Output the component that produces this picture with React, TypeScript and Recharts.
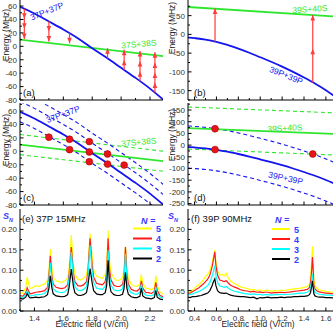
import React from 'react';
import { ComposedChart, Line, Scatter, XAxis, YAxis } from 'recharts';

// ---- (a)/(c): 37P+37P and 37S+38S pair energies (MHz) vs field (V/cm) ----
const field37 = [1.3, 1.4, 1.5, 1.6, 1.7, 1.8, 1.9, 2.0, 2.1, 2.2, 2.3];
const pp37 = [59, 49, 37, 25, 12, -3, -17, -32, -47, -63, -81];
const pp37Plus15 = [74, 64, 52, 40, 27, 12, -2, -17, -32, -48, -66];
const pp37Plus30 = [89, 79, 67, 55, 42, 27, 13, -2, -17, -33, -51];
const pp37Minus15 = [44, 34, 22, 10, -3, -18, -32, -47, -62, -78, -96];
const fieldEnds37 = [1.3, 2.3];
const ss37 = [10, -15];
const ss37Plus15 = [25, 0];
const ss37Minus15 = [-5, -30];

// arrows in (a): start on 37P+37P, one head per 15 MHz photon
const arrowX37 = [1.33, 1.5, 1.643, 1.906, 2.021, 2.131, 2.234];
const arrowStart37 = [56, 37, 19.4, -18, -35, -52, -69];
const arrowHeads37 = [[41, 26, 11], [22, 7], [4.4], [-3], [-20, -5], [-37, -22, -7], [-54, -39, -24, -9]];

// crossings marked in (c)
const dotX37 = [1.5, 1.643, 1.643, 1.78, 1.78, 1.78, 1.906, 1.906, 2.021];
const dotY37 = [21, 18, 2.5, 14.5, -1, -15.5, -4, -19, -20.5];

// ---- (b)/(d): 39P+39P and 39S+40S ----
const field39 = [0.34, 0.4, 0.5, 0.6, 0.7, 0.8, 0.9, 1.0, 1.1, 1.2, 1.3, 1.4, 1.5, 1.6, 1.67];
const pp39 = [-8, -10, -14, -20, -28, -38, -49, -61, -73, -86, -100, -115, -131, -149, -163];
const pp39Plus90 = [82, 80, 76, 70, 62, 52, 41, 29, 17, 4, -10, -25, -41, -59, -73];
const pp39Minus90 = [-98, -100, -104, -110, -118, -128, -139, -151, -163, -176, -190, -205, -221, -239, -253];
const fieldEnds39 = [0.34, 1.67];
const ss39 = [73, 48];
const ss39Plus90 = [163, 138];
const ss39Minus90 = [-17, -42];

const arrowX39 = [0.587, 1.48];
const arrowStart39 = [-19, -128];
const arrowHeads39 = [[69], [-38, 52]];

const dotX39 = [0.587, 0.587, 1.48];
const dotY39 = [70, -19, -38];

// ---- (e): 37P, 15 MHz, S_N vs field ----
const fieldE = [
  1.30, 1.32, 1.34, 1.35, 1.36, 1.37, 1.39, 1.41, 1.43, 1.45,
  1.47, 1.49, 1.50, 1.51, 1.52, 1.53, 1.55, 1.57, 1.59, 1.61,
  1.63, 1.64, 1.655, 1.67, 1.68, 1.70, 1.72, 1.74, 1.76, 1.77,
  1.785, 1.80, 1.81, 1.83, 1.85, 1.87, 1.89, 1.90, 1.91, 1.92,
  1.93, 1.95, 1.97, 1.99, 2.01, 2.02, 2.03, 2.04, 2.05, 2.07,
  2.09, 2.11, 2.13, 2.14, 2.15, 2.17, 2.19, 2.21, 2.23, 2.24,
  2.25, 2.27, 2.29,
];
const n5E = [
  0.046, 0.043, 0.058, 0.083, 0.066, 0.055, 0.058, 0.062, 0.060, 0.064,
  0.066, 0.075, 0.098, 0.152, 0.105, 0.082, 0.074, 0.072, 0.070, 0.074,
  0.082, 0.105, 0.186, 0.112, 0.090, 0.078, 0.076, 0.080, 0.088, 0.110,
  0.190, 0.130, 0.100, 0.085, 0.082, 0.080, 0.090, 0.110, 0.197, 0.120,
  0.094, 0.080, 0.075, 0.076, 0.082, 0.100, 0.158, 0.105, 0.080, 0.065,
  0.062, 0.060, 0.066, 0.090, 0.068, 0.056, 0.055, 0.052, 0.058, 0.087,
  0.062, 0.046, 0.042,
];
const n4E = [
  0.038, 0.036, 0.045, 0.057, 0.048, 0.042, 0.044, 0.046, 0.047, 0.048,
  0.050, 0.058, 0.085, 0.135, 0.088, 0.066, 0.058, 0.056, 0.055, 0.057,
  0.064, 0.090, 0.157, 0.092, 0.072, 0.062, 0.061, 0.064, 0.072, 0.095,
  0.178, 0.110, 0.083, 0.068, 0.066, 0.064, 0.072, 0.095, 0.178, 0.100,
  0.076, 0.063, 0.060, 0.060, 0.065, 0.085, 0.157, 0.090, 0.066, 0.053,
  0.050, 0.049, 0.055, 0.074, 0.056, 0.046, 0.045, 0.043, 0.048, 0.070,
  0.050, 0.038, 0.035,
];
const n3E = [
  0.034, 0.033, 0.040, 0.050, 0.042, 0.037, 0.038, 0.040, 0.040, 0.041,
  0.043, 0.050, 0.075, 0.118, 0.078, 0.055, 0.048, 0.046, 0.045, 0.047,
  0.054, 0.080, 0.145, 0.082, 0.060, 0.051, 0.050, 0.053, 0.060, 0.085,
  0.161, 0.095, 0.070, 0.056, 0.054, 0.053, 0.060, 0.080, 0.149, 0.085,
  0.063, 0.052, 0.050, 0.050, 0.054, 0.075, 0.140, 0.078, 0.055, 0.045,
  0.042, 0.041, 0.046, 0.066, 0.047, 0.039, 0.038, 0.037, 0.041, 0.060,
  0.043, 0.034, 0.032,
];
const n2E = [
  0.031, 0.029, 0.034, 0.043, 0.036, 0.032, 0.033, 0.034, 0.033, 0.034,
  0.035, 0.040, 0.055, 0.086, 0.058, 0.042, 0.037, 0.036, 0.035, 0.036,
  0.040, 0.058, 0.103, 0.060, 0.045, 0.039, 0.038, 0.040, 0.045, 0.062,
  0.104, 0.068, 0.050, 0.042, 0.040, 0.040, 0.045, 0.062, 0.124, 0.065,
  0.047, 0.040, 0.038, 0.038, 0.041, 0.055, 0.095, 0.056, 0.041, 0.035,
  0.033, 0.033, 0.036, 0.056, 0.037, 0.032, 0.031, 0.030, 0.033, 0.050,
  0.034, 0.029, 0.028,
];

// ---- (f): 39P, 90 MHz ----
const fieldF = [
  0.34, 0.36, 0.38, 0.40, 0.42, 0.44, 0.46, 0.48, 0.50, 0.52,
  0.54, 0.56, 0.57, 0.585, 0.595, 0.61, 0.63, 0.65, 0.67, 0.69,
  0.71, 0.73, 0.76, 0.79, 0.82, 0.85, 0.88, 0.91, 0.94, 0.97,
  1.00, 1.02, 1.04, 1.07, 1.10, 1.13, 1.16, 1.19, 1.22, 1.25,
  1.28, 1.31, 1.34, 1.37, 1.40, 1.43, 1.45, 1.46, 1.47, 1.477,
  1.485, 1.49, 1.50, 1.52, 1.54, 1.57, 1.60, 1.63, 1.665,
];
const n5F = [
  0.045, 0.047, 0.051, 0.056, 0.061, 0.064, 0.070, 0.076, 0.085, 0.090,
  0.100, 0.118, 0.130, 0.149, 0.120, 0.098, 0.088, 0.090, 0.086, 0.092,
  0.080, 0.073, 0.068, 0.064, 0.059, 0.057, 0.055, 0.052, 0.053, 0.050,
  0.052, 0.049, 0.050, 0.051, 0.048, 0.050, 0.049, 0.051, 0.050, 0.052,
  0.053, 0.054, 0.055, 0.056, 0.058, 0.060, 0.066, 0.080, 0.120, 0.158,
  0.110, 0.075, 0.062, 0.055, 0.052, 0.050, 0.048, 0.047, 0.046,
];
const n4F = [
  0.043, 0.044, 0.047, 0.050, 0.054, 0.057, 0.062, 0.066, 0.072, 0.078,
  0.088, 0.108, 0.122, 0.145, 0.112, 0.088, 0.076, 0.074, 0.072, 0.074,
  0.068, 0.063, 0.059, 0.056, 0.052, 0.050, 0.049, 0.047, 0.048, 0.046,
  0.047, 0.045, 0.046, 0.046, 0.044, 0.045, 0.045, 0.046, 0.045, 0.046,
  0.047, 0.048, 0.049, 0.050, 0.051, 0.053, 0.058, 0.070, 0.100, 0.132,
  0.095, 0.064, 0.054, 0.049, 0.047, 0.045, 0.044, 0.043, 0.042,
];
const n3F = [
  0.040, 0.040, 0.042, 0.044, 0.046, 0.048, 0.051, 0.054, 0.058, 0.062,
  0.070, 0.085, 0.095, 0.112, 0.088, 0.070, 0.062, 0.060, 0.058, 0.060,
  0.056, 0.052, 0.049, 0.047, 0.045, 0.043, 0.042, 0.041, 0.042, 0.040,
  0.041, 0.039, 0.040, 0.040, 0.039, 0.040, 0.040, 0.041, 0.040, 0.041,
  0.041, 0.042, 0.043, 0.044, 0.044, 0.046, 0.050, 0.058, 0.075, 0.091,
  0.070, 0.052, 0.046, 0.043, 0.041, 0.040, 0.039, 0.039, 0.038,
];
const n2F = [
  0.034, 0.033, 0.035, 0.035, 0.036, 0.037, 0.038, 0.040, 0.042, 0.044,
  0.050, 0.062, 0.070, 0.079, 0.062, 0.050, 0.045, 0.044, 0.043, 0.044,
  0.041, 0.039, 0.037, 0.036, 0.035, 0.035, 0.034, 0.033, 0.034, 0.030,
  0.033, 0.032, 0.033, 0.034, 0.032, 0.033, 0.033, 0.034, 0.033, 0.034,
  0.034, 0.035, 0.035, 0.036, 0.036, 0.037, 0.040, 0.046, 0.060, 0.074,
  0.055, 0.042, 0.037, 0.035, 0.034, 0.034, 0.033, 0.033, 0.032,
];

// axes: major (labelled) and minor ticks
const xTicks37 = [1.4, 1.6, 1.8, 2.0, 2.2];
const xMinor37 = [1.3, 1.5, 1.7, 1.9, 2.1];
const xTicks39 = [0.4, 0.6, 0.8, 1.0, 1.2, 1.4, 1.6];
const xMinor39 = [0.5, 0.7, 0.9, 1.1, 1.3, 1.5];
const yTicksA = [-80, -60, -40, -20, 0, 20, 40, 60];
const yMinorA = [-70, -50, -30, -10, 10, 30, 50, 70];
const yTicksB = [-150, -100, -50, 0, 50];
const yMinorB = [-175, -125, -75, -25, 25, 75];
const yTicksD = [-250, -200, -150, -100, -50, 0, 50, 100, 150];
const yMinorD = [-225, -175, -125, -75, -25, 25, 75, 125, 175];
const yTicksS = [0, 0.05, 0.1, 0.15, 0.2];
const yMinorS = [0.025, 0.075, 0.125, 0.175, 0.225];
const legendN = ['5', '4', '3', '2'];

const FONT = '"Liberation Sans", Arial, Helvetica, sans-serif';
const BLUE = '#1414f0';
const GREEN = '#2ee62e';
const ARROW = '#ff3c3c';
const DOT = '#e8141a';
const LBLUE = '#3a3aff';
const SERIES = ['#ffff00', '#ff1a1a', '#00ffff', '#000000'];

const YW = 30;
const tickText = { fontSize: 8, fill: '#333', fontFamily: FONT };

const pts = (xs: number[], ys: number[]) => xs.map((x, i) => ({ x, y: ys[i] }));

const shafts = (xs: number[], starts: number[], heads: number[][]) =>
  xs.flatMap((x, i) => [
    { x, y: starts[i] },
    { x, y: heads[i][heads[i].length - 1] },
    { x, y: null as number | null },
  ]);

const headPts = (xs: number[], starts: number[], heads: number[][], up: boolean) =>
  xs.flatMap((x, i) => (heads[i][0] > starts[i]) === up ? heads[i].map((y) => ({ x, y })) : []);

const HeadUp = (p: any) => (
  <polygon points={`${p.cx},${p.cy} ${p.cx - 2.3},${p.cy + 5.5} ${p.cx + 2.3},${p.cy + 5.5}`} fill={ARROW} />
);
const HeadDown = (p: any) => (
  <polygon points={`${p.cx},${p.cy} ${p.cx - 2.3},${p.cy - 5.5} ${p.cx + 2.3},${p.cy - 5.5}`} fill={ARROW} />
);
const RedDot = (p: any) => <circle cx={p.cx} cy={p.cy} r={3.4} fill={DOT} stroke="#a00" strokeWidth={0.6} />;

type Box = { x: number; y: number; w: number; h: number };
const boxA: Box = { x: 20, y: -2, w: 143, h: 102 };
const boxB: Box = { x: 188, y: -2, w: 145, h: 102 };
const boxC: Box = { x: 20, y: 103, w: 143, h: 102 };
const boxD: Box = { x: 188, y: 103, w: 145, h: 102 };
const boxE: Box = { x: 20, y: 209, w: 143, h: 102 };
const boxF: Box = { x: 188, y: 209, w: 145, h: 102 };

function Panel({ box, xh, children }: { box: Box; xh: number; children: React.ReactNode }) {
  return (
    <div style={{ position: 'absolute', left: box.x - YW, top: box.y - 4 }}>
      <ComposedChart
        width={YW + box.w + 4}
        height={box.h + 4 + xh}
        margin={{ top: 4, right: 4, bottom: 0, left: 0 }}
      >
        {children}
      </ComposedChart>
    </div>
  );
}

// inward tick marks (long for major, short for minor) plus optional label
type Side = 'bottom' | 'top' | 'left' | 'right';
const tickRenderer = (side: Side, majors: number[], fmt?: (v: number) => string) => (p: any) => {
  const v = p.payload.value;
  const major = majors.indexOf(v) >= 0;
  const len = major ? 3.5 : 2;
  const { x, y } = p;
  const label = fmt && major;
  if (side === 'bottom') {
    return (
      <g>
        <line x1={x} x2={x} y1={y} y2={y - len} stroke="#000" />
        {label && <text x={x} y={y + 10} textAnchor="middle" {...tickText}>{fmt!(v)}</text>}
      </g>
    );
  }
  if (side === 'top') return <line x1={x} x2={x} y1={y} y2={y + len} stroke="#000" />;
  if (side === 'right') return <line x1={x} x2={x - len} y1={y} y2={y} stroke="#000" />;
  return (
    <g>
      <line x1={x} x2={x + len} y1={y} y2={y} stroke="#000" />
      {label && <text x={x - 3} y={y + 2.9} textAnchor="end" {...tickText}>{fmt!(v)}</text>}
    </g>
  );
};

// Origin-style closed frame
function frame(
  xd: number[], xMaj: number[], xMin: number[], yd: number[], yMaj: number[], yMin: number[],
  xh: number, xFmt: ((v: number) => string) | undefined, yFmt: (v: number) => string,
) {
  const line = { stroke: '#000', strokeWidth: 1 };
  const xt = [...xMaj, ...xMin].sort((a, b) => a - b);
  const yt = [...yMaj, ...yMin].sort((a, b) => a - b);
  const common = { type: 'number' as const, allowDataOverflow: true, interval: 0 as const,
    tickSize: 0, tickMargin: 0, tickLine: false, axisLine: line };
  return (
    <>
      <XAxis {...common} dataKey="x" domain={xd} ticks={xt} height={xh}
        tick={tickRenderer('bottom', xMaj, xFmt)} />
      <XAxis {...common} xAxisId="top" orientation="top" domain={xd} ticks={xt} height={0}
        tick={tickRenderer('top', xMaj)} />
      <YAxis {...common} dataKey="y" domain={yd} ticks={yt} width={YW}
        tick={tickRenderer('left', yMaj, yFmt)} />
      <YAxis {...common} yAxisId="right" orientation="right" domain={yd} ticks={yt} width={0}
        tick={tickRenderer('right', yMaj)} />
    </>
  );
}

const solid = (data: any[], color: string, curved = true) => (
  <Line data={data} dataKey="y" type={curved ? 'monotone' : 'linear'} stroke={color} strokeWidth={1.8}
    dot={false} activeDot={false} isAnimationActive={false} />
);
const dashed = (data: any[], color: string, curved = true) => (
  <Line data={data} dataKey="y" type={curved ? 'monotone' : 'linear'} stroke={color} strokeWidth={1.1}
    strokeDasharray="4 3" dot={false} activeDot={false} isAnimationActive={false} />
);
const arrows = (xs: number[], starts: number[], heads: number[][]) => (
  <>
    <Line data={shafts(xs, starts, heads)} dataKey="y" type="linear" stroke={ARROW} strokeWidth={1.2}
      connectNulls={false} dot={false} activeDot={false} isAnimationActive={false} />
    <Scatter data={headPts(xs, starts, heads, true)} dataKey="y" shape={HeadUp} isAnimationActive={false} />
    <Scatter data={headPts(xs, starts, heads, false)} dataKey="y" shape={HeadDown} isAnimationActive={false} />
  </>
);
const spectra = (xs: number[], series: number[][]) =>
  series.map((ys, i) => (
    <Line key={i} data={pts(xs, ys)} dataKey="y" type="linear" stroke={SERIES[i]} strokeWidth={1.2}
      dot={false} activeDot={false} isAnimationActive={false} />
  ));

const fmtInt = (v: number) => String(v);
const fmt1 = (v: number) => v.toFixed(1);
const fmt2 = (v: number) => v.toFixed(2);

function Label({ x, y, rot = 0, color, size = 8.5, children }: any) {
  return (
    <text transform={`translate(${x},${y}) rotate(${rot})`} textAnchor="middle" fill={color}
      fontSize={size} fontFamily={FONT}>{children}</text>
  );
}

export default function App() {
  const xd37 = [1.3, 2.29];
  const xd39 = [0.34, 1.665];
  const ydA = [-80, 72];
  const ydB = [-175, 97];
  const ydD = [-256, 180];
  const ydS = [0, 0.25];
  return (
    <div style={{ position: 'absolute', left: 0, top: 0, width: 334, height: 330, background: '#fff', overflow: 'hidden' }}>
      <Panel box={boxA} xh={4}>
        {frame(xd37, xTicks37, xMinor37, ydA, yTicksA, yMinorA, 4, undefined, fmtInt)}
        {solid(pts(fieldEnds37, ss37), GREEN, false)}
        {solid(pts(field37, pp37), BLUE)}
        {arrows(arrowX37, arrowStart37, arrowHeads37)}
      </Panel>
      <Panel box={boxB} xh={4}>
        {frame(xd39, xTicks39, xMinor39, ydB, yTicksB, yMinorB, 4, undefined, fmtInt)}
        {solid(pts(fieldEnds39, ss39), GREEN, false)}
        {solid(pts(field39, pp39), BLUE)}
        {arrows(arrowX39, arrowStart39, arrowHeads39)}
      </Panel>
      <Panel box={boxC} xh={4}>
        {frame(xd37, xTicks37, xMinor37, ydA, yTicksA, yMinorA, 4, undefined, fmtInt)}
        {dashed(pts(fieldEnds37, ss37Plus15), GREEN, false)}
        {dashed(pts(fieldEnds37, ss37Minus15), GREEN, false)}
        {dashed(pts(field37, pp37Plus15), BLUE)}
        {dashed(pts(field37, pp37Plus30), BLUE)}
        {dashed(pts(field37, pp37Minus15), BLUE)}
        {solid(pts(fieldEnds37, ss37), GREEN, false)}
        {solid(pts(field37, pp37), BLUE)}
        <Scatter data={pts(dotX37, dotY37)} dataKey="y" shape={RedDot} isAnimationActive={false} />
      </Panel>
      <Panel box={boxD} xh={4}>
        {frame(xd39, xTicks39, xMinor39, ydD, yTicksD, yMinorD, 4, undefined, fmtInt)}
        {dashed(pts(fieldEnds39, ss39Plus90), GREEN, false)}
        {dashed(pts(fieldEnds39, ss39Minus90), GREEN, false)}
        {dashed(pts(field39, pp39Plus90), BLUE)}
        {dashed(pts(field39, pp39Minus90), BLUE)}
        {solid(pts(fieldEnds39, ss39), GREEN, false)}
        {solid(pts(field39, pp39), BLUE)}
        <Scatter data={pts(dotX39, dotY39)} dataKey="y" shape={RedDot} isAnimationActive={false} />
      </Panel>
      <Panel box={boxE} xh={16}>
        {frame(xd37, xTicks37, xMinor37, ydS, yTicksS, yMinorS, 16, fmt1, fmt2)}
        {spectra(fieldE, [n5E, n4E, n3E, n2E])}
      </Panel>
      <Panel box={boxF} xh={16}>
        {frame(xd39, xTicks39, xMinor39, ydS, yTicksS, yMinorS, 16, fmt1, fmt2)}
        {spectra(fieldF, [n5F, n4F, n3F, n2F])}
      </Panel>

      <svg width={334} height={330} style={{ position: 'absolute', left: 0, top: 0, pointerEvents: 'none' }}
        fontFamily={FONT}>
        <Label x={9} y={35} rot={-90} color="#222">Energy (MHz)</Label>
        <Label x={175} y={28} rot={-90} color="#222">Energy (MHz)</Label>
        <Label x={9} y={140} rot={-90} color="#222">Energy (MHz)</Label>
        <Label x={175} y={135} rot={-90} color="#222">Energy (MHz)</Label>

        <Label x={48} y={14} rot={-22} color={BLUE}>37P+37P</Label>
        <Label x={139} y={47} rot={-5} color={GREEN}>37S+38S</Label>
        <Label x={310} y={12} rot={-4} color={GREEN}>39S+40S</Label>
        <Label x={285} y={78} rot={22} color={BLUE}>39P+39P</Label>
        <Label x={64} y={117} rot={-20} color={BLUE}>37P+37P</Label>
        <Label x={139} y={145} rot={-5} color={GREEN}>37S+38S</Label>
        <Label x={285} y={131} rot={-3} color={GREEN}>39S+40S</Label>
        <Label x={285} y={181} rot={12} color={BLUE}>39P+39P</Label>

        <g fontSize={9.5} fill="#111">
          <text x={23} y={96}>(a)</text>
          <text x={194} y={96}>(b)</text>
          <text x={23} y={201}>(c)</text>
          <text x={194} y={201}>(d)</text>
          <text x={22} y={222}>(e) 37P 15MHz</text>
          <text x={191} y={222}>(f) 39P 90MHz</text>
        </g>

        <g fill={LBLUE} fontStyle="italic" fontWeight="bold" fontSize={9}>
          <text x={3} y={219}>S<tspan fontSize={5.5} dy={2.5}>N</tspan></text>
          <text x={168} y={219}>S<tspan fontSize={5.5} dy={2.5}>N</tspan></text>
          <text x={141} y={223.5}>N =</text>
          <text x={275} y={222.5}>N =</text>
        </g>

        {legendN.map((n, i) => (
          <g key={n}>
            <line x1={133} x2={152} y1={228.5 + i * 10} y2={228.5 + i * 10} stroke={SERIES[i]} strokeWidth={2} />
            <text x={156} y={232 + i * 10} fill={LBLUE} fontWeight="bold" fontSize={9}>{n}</text>
            <line x1={272} x2={290} y1={229 + i * 10} y2={229 + i * 10} stroke={SERIES[i]} strokeWidth={2} />
            <text x={294} y={232.5 + i * 10} fill={LBLUE} fontWeight="bold" fontSize={9}>{n}</text>
          </g>
        ))}

        <Label x={92} y={327} color="#222">Electric field (V/cm)</Label>
        <Label x={258} y={327} color="#222">Electric field (V/cm)</Label>
      </svg>
    </div>
  );
}
